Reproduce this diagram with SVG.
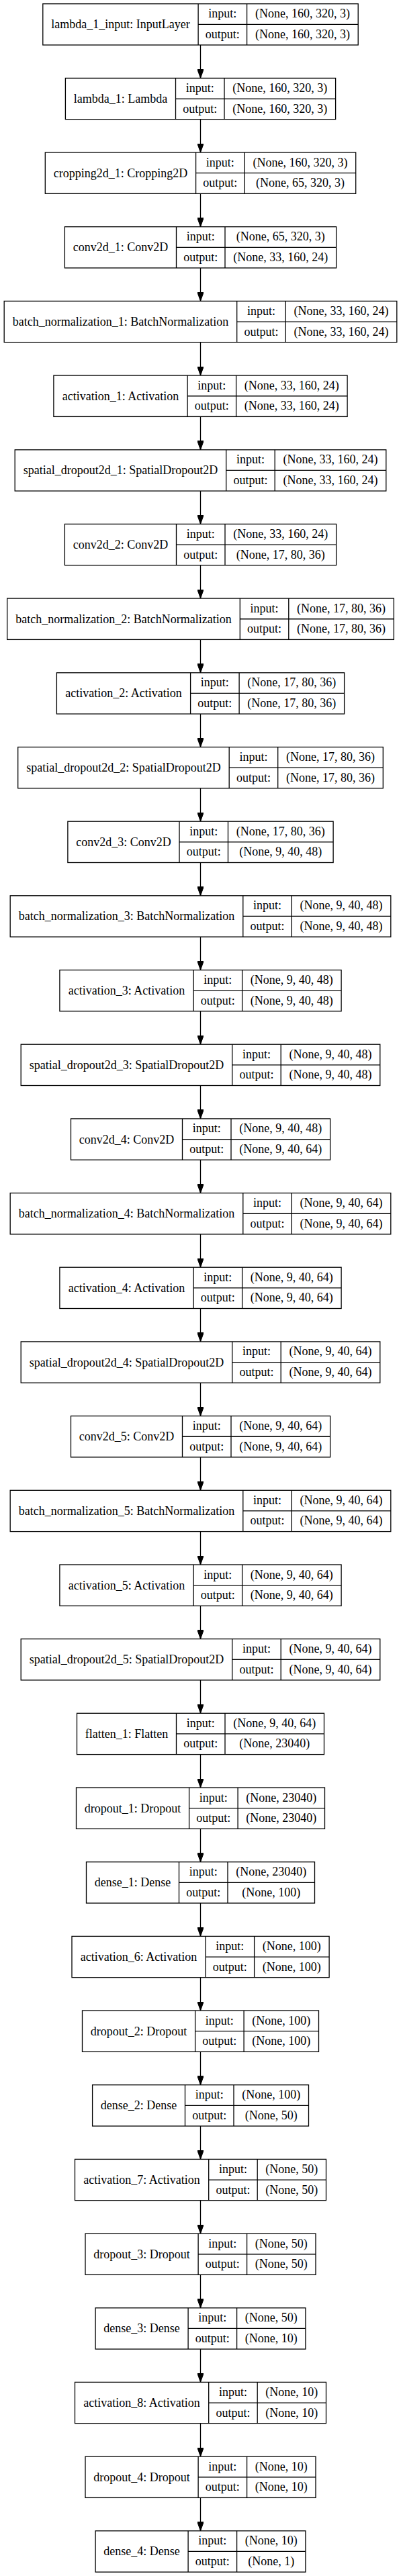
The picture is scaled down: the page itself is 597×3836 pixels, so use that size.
<svg xmlns="http://www.w3.org/2000/svg" width="597" height="3836" viewBox="0 0 597 3836">
<defs>
<style>
rect{fill:#fff;stroke:#000;stroke-width:1.3}
.n path{fill:none;stroke:#000;stroke-width:1.3}
text{font-family:"Liberation Serif","Times New Roman",serif;font-size:18px;text-anchor:middle;fill:#000}
.e line{stroke:#000;stroke-width:1.3}
</style>
<marker id="ah" markerUnits="userSpaceOnUse" viewBox="0 0 13.5 9.6" refX="13.5" refY="4.8" markerWidth="13.5" markerHeight="9.6" orient="auto"><path d="M0,0L13.5,4.8L0,9.6z" fill="#000" stroke="#000" stroke-width="1"/></marker>
</defs>
<rect x="0" y="0" width="597" height="3836" style="fill:#fff;stroke:none"/>
<g class="e" marker-end="url(#ah)">
<line x1="298.5" y1="67.0" x2="298.5" y2="116.4" marker-end="url(#ah)"/>
<line x1="298.5" y1="177.7" x2="298.5" y2="227.0" marker-end="url(#ah)"/>
<line x1="298.5" y1="288.3" x2="298.5" y2="337.7" marker-end="url(#ah)"/>
<line x1="298.5" y1="399.0" x2="298.5" y2="448.4" marker-end="url(#ah)"/>
<line x1="298.5" y1="509.7" x2="298.5" y2="559.1" marker-end="url(#ah)"/>
<line x1="298.5" y1="620.4" x2="298.5" y2="669.8" marker-end="url(#ah)"/>
<line x1="298.5" y1="731.1" x2="298.5" y2="780.4" marker-end="url(#ah)"/>
<line x1="298.5" y1="841.7" x2="298.5" y2="891.1" marker-end="url(#ah)"/>
<line x1="298.5" y1="952.4" x2="298.5" y2="1001.8" marker-end="url(#ah)"/>
<line x1="298.5" y1="1063.1" x2="298.5" y2="1112.5" marker-end="url(#ah)"/>
<line x1="298.5" y1="1173.8" x2="298.5" y2="1223.2" marker-end="url(#ah)"/>
<line x1="298.5" y1="1284.5" x2="298.5" y2="1333.8" marker-end="url(#ah)"/>
<line x1="298.5" y1="1395.1" x2="298.5" y2="1444.5" marker-end="url(#ah)"/>
<line x1="298.5" y1="1505.8" x2="298.5" y2="1555.2" marker-end="url(#ah)"/>
<line x1="298.5" y1="1616.5" x2="298.5" y2="1665.9" marker-end="url(#ah)"/>
<line x1="298.5" y1="1727.2" x2="298.5" y2="1776.6" marker-end="url(#ah)"/>
<line x1="298.5" y1="1837.9" x2="298.5" y2="1887.2" marker-end="url(#ah)"/>
<line x1="298.5" y1="1948.5" x2="298.5" y2="1997.9" marker-end="url(#ah)"/>
<line x1="298.5" y1="2059.2" x2="298.5" y2="2108.6" marker-end="url(#ah)"/>
<line x1="298.5" y1="2169.9" x2="298.5" y2="2219.3" marker-end="url(#ah)"/>
<line x1="298.5" y1="2280.6" x2="298.5" y2="2330.0" marker-end="url(#ah)"/>
<line x1="298.5" y1="2391.3" x2="298.5" y2="2440.6" marker-end="url(#ah)"/>
<line x1="298.5" y1="2501.9" x2="298.5" y2="2551.3" marker-end="url(#ah)"/>
<line x1="298.5" y1="2612.6" x2="298.5" y2="2662.0" marker-end="url(#ah)"/>
<line x1="298.5" y1="2723.3" x2="298.5" y2="2772.7" marker-end="url(#ah)"/>
<line x1="298.5" y1="2834.0" x2="298.5" y2="2883.4" marker-end="url(#ah)"/>
<line x1="298.5" y1="2944.7" x2="298.5" y2="2994.0" marker-end="url(#ah)"/>
<line x1="298.5" y1="3055.3" x2="298.5" y2="3104.7" marker-end="url(#ah)"/>
<line x1="298.5" y1="3166.0" x2="298.5" y2="3215.4" marker-end="url(#ah)"/>
<line x1="298.5" y1="3276.7" x2="298.5" y2="3326.1" marker-end="url(#ah)"/>
<line x1="298.5" y1="3387.4" x2="298.5" y2="3436.8" marker-end="url(#ah)"/>
<line x1="298.5" y1="3498.1" x2="298.5" y2="3547.4" marker-end="url(#ah)"/>
<line x1="298.5" y1="3608.7" x2="298.5" y2="3658.1" marker-end="url(#ah)"/>
<line x1="298.5" y1="3719.4" x2="298.5" y2="3768.8" marker-end="url(#ah)"/>
</g>
<g id="n0" class="n" transform="translate(0,5.7)"><rect x="63.8" width="469.4" height="61.3"/><path d="M295.1,0V61.3M367.6,0V61.3M295.1,30.65H533.2"/><text x="179.45" y="36.7">lambda_1_input: InputLayer</text><text x="331.35" y="20.5">input:</text><text x="331.35" y="51.2">output:</text><text x="450.4" y="20.5">(None, 160, 320, 3)</text><text x="450.4" y="51.2">(None, 160, 320, 3)</text></g>
<g id="n1" class="n" transform="translate(0,116.4)"><rect x="97.4" width="402.2" height="61.3"/><path d="M261.5,0V61.3M334,0V61.3M261.5,30.65H499.6"/><text x="179.45" y="36.7">lambda_1: Lambda</text><text x="297.75" y="20.5">input:</text><text x="297.75" y="51.2">output:</text><text x="416.8" y="20.5">(None, 160, 320, 3)</text><text x="416.8" y="51.2">(None, 160, 320, 3)</text></g>
<g id="n2" class="n" transform="translate(0,227.0)"><rect x="67.3" width="462.4" height="61.3"/><path d="M291.6,0V61.3M364.1,0V61.3M291.6,30.65H529.7"/><text x="179.45" y="36.7">cropping2d_1: Cropping2D</text><text x="327.85" y="20.5">input:</text><text x="327.85" y="51.2">output:</text><text x="446.9" y="20.5">(None, 160, 320, 3)</text><text x="446.9" y="51.2">(None, 65, 320, 3)</text></g>
<g id="n3" class="n" transform="translate(0,337.7)"><rect x="96.4" width="404.2" height="61.3"/><path d="M262.5,0V61.3M335,0V61.3M262.5,30.65H500.6"/><text x="179.45" y="36.7">conv2d_1: Conv2D</text><text x="298.75" y="20.5">input:</text><text x="298.75" y="51.2">output:</text><text x="417.8" y="20.5">(None, 65, 320, 3)</text><text x="417.8" y="51.2">(None, 33, 160, 24)</text></g>
<g id="n4" class="n" transform="translate(0,448.4)"><rect x="6.2" width="584.6" height="61.3"/><path d="M352.7,0V61.3M425.2,0V61.3M352.7,30.65H590.8"/><text x="179.45" y="36.7">batch_normalization_1: BatchNormalization</text><text x="388.95" y="20.5">input:</text><text x="388.95" y="51.2">output:</text><text x="508" y="20.5">(None, 33, 160, 24)</text><text x="508" y="51.2">(None, 33, 160, 24)</text></g>
<g id="n5" class="n" transform="translate(0,559.1)"><rect x="79.9" width="437.2" height="61.3"/><path d="M279.1,0V61.3M351.6,0V61.3M279.1,30.65H517.1"/><text x="179.5" y="36.7">activation_1: Activation</text><text x="315.35" y="20.5">input:</text><text x="315.35" y="51.2">output:</text><text x="434.35" y="20.5">(None, 33, 160, 24)</text><text x="434.35" y="51.2">(None, 33, 160, 24)</text></g>
<g id="n6" class="n" transform="translate(0,669.8)"><rect x="22.2" width="552.6" height="61.3"/><path d="M336.7,0V61.3M409.2,0V61.3M336.7,30.65H574.8"/><text x="179.45" y="36.7">spatial_dropout2d_1: SpatialDropout2D</text><text x="372.95" y="20.5">input:</text><text x="372.95" y="51.2">output:</text><text x="492" y="20.5">(None, 33, 160, 24)</text><text x="492" y="51.2">(None, 33, 160, 24)</text></g>
<g id="n7" class="n" transform="translate(0,780.4)"><rect x="96.4" width="404.2" height="61.3"/><path d="M262.5,0V61.3M335,0V61.3M262.5,30.65H500.6"/><text x="179.45" y="36.7">conv2d_2: Conv2D</text><text x="298.75" y="20.5">input:</text><text x="298.75" y="51.2">output:</text><text x="417.8" y="20.5">(None, 33, 160, 24)</text><text x="417.8" y="51.2">(None, 17, 80, 36)</text></g>
<g id="n8" class="n" transform="translate(0,891.1)"><rect x="10.7" width="575.6" height="61.3"/><path d="M357.3,0V61.3M429.8,0V61.3M357.3,30.65H586.3"/><text x="184" y="36.7">batch_normalization_2: BatchNormalization</text><text x="393.55" y="20.5">input:</text><text x="393.55" y="51.2">output:</text><text x="508.05" y="20.5">(None, 17, 80, 36)</text><text x="508.05" y="51.2">(None, 17, 80, 36)</text></g>
<g id="n9" class="n" transform="translate(0,1001.8)"><rect x="84.4" width="428.2" height="61.3"/><path d="M283.6,0V61.3M356.1,0V61.3M283.6,30.65H512.6"/><text x="184" y="36.7">activation_2: Activation</text><text x="319.85" y="20.5">input:</text><text x="319.85" y="51.2">output:</text><text x="434.35" y="20.5">(None, 17, 80, 36)</text><text x="434.35" y="51.2">(None, 17, 80, 36)</text></g>
<g id="n10" class="n" transform="translate(0,1112.5)"><rect x="26.7" width="543.6" height="61.3"/><path d="M341.2,0V61.3M413.7,0V61.3M341.2,30.65H570.3"/><text x="183.95" y="36.7">spatial_dropout2d_2: SpatialDropout2D</text><text x="377.45" y="20.5">input:</text><text x="377.45" y="51.2">output:</text><text x="492" y="20.5">(None, 17, 80, 36)</text><text x="492" y="51.2">(None, 17, 80, 36)</text></g>
<g id="n11" class="n" transform="translate(0,1223.2)"><rect x="100.9" width="395.2" height="61.3"/><path d="M267,0V61.3M339.5,0V61.3M267,30.65H496.1"/><text x="183.95" y="36.7">conv2d_3: Conv2D</text><text x="303.25" y="20.5">input:</text><text x="303.25" y="51.2">output:</text><text x="417.8" y="20.5">(None, 17, 80, 36)</text><text x="417.8" y="51.2">(None, 9, 40, 48)</text></g>
<g id="n12" class="n" transform="translate(0,1333.8)"><rect x="15.2" width="566.6" height="61.3"/><path d="M361.8,0V61.3M434.3,0V61.3M361.8,30.65H581.8"/><text x="188.5" y="36.7">batch_normalization_3: BatchNormalization</text><text x="398.05" y="20.5">input:</text><text x="398.05" y="51.2">output:</text><text x="508.05" y="20.5">(None, 9, 40, 48)</text><text x="508.05" y="51.2">(None, 9, 40, 48)</text></g>
<g id="n13" class="n" transform="translate(0,1444.5)"><rect x="88.9" width="419.2" height="61.3"/><path d="M288.1,0V61.3M360.6,0V61.3M288.1,30.65H508.1"/><text x="188.5" y="36.7">activation_3: Activation</text><text x="324.35" y="20.5">input:</text><text x="324.35" y="51.2">output:</text><text x="434.35" y="20.5">(None, 9, 40, 48)</text><text x="434.35" y="51.2">(None, 9, 40, 48)</text></g>
<g id="n14" class="n" transform="translate(0,1555.2)"><rect x="31.2" width="534.6" height="61.3"/><path d="M345.7,0V61.3M418.2,0V61.3M345.7,30.65H565.8"/><text x="188.45" y="36.7">spatial_dropout2d_3: SpatialDropout2D</text><text x="381.95" y="20.5">input:</text><text x="381.95" y="51.2">output:</text><text x="492" y="20.5">(None, 9, 40, 48)</text><text x="492" y="51.2">(None, 9, 40, 48)</text></g>
<g id="n15" class="n" transform="translate(0,1665.9)"><rect x="105.5" width="386.1" height="61.3"/><path d="M271.5,0V61.3M344,0V61.3M271.5,30.65H491.6"/><text x="188.5" y="36.7">conv2d_4: Conv2D</text><text x="307.75" y="20.5">input:</text><text x="307.75" y="51.2">output:</text><text x="417.8" y="20.5">(None, 9, 40, 48)</text><text x="417.8" y="51.2">(None, 9, 40, 64)</text></g>
<g id="n16" class="n" transform="translate(0,1776.6)"><rect x="15.2" width="566.6" height="61.3"/><path d="M361.8,0V61.3M434.3,0V61.3M361.8,30.65H581.8"/><text x="188.5" y="36.7">batch_normalization_4: BatchNormalization</text><text x="398.05" y="20.5">input:</text><text x="398.05" y="51.2">output:</text><text x="508.05" y="20.5">(None, 9, 40, 64)</text><text x="508.05" y="51.2">(None, 9, 40, 64)</text></g>
<g id="n17" class="n" transform="translate(0,1887.2)"><rect x="88.9" width="419.2" height="61.3"/><path d="M288.1,0V61.3M360.6,0V61.3M288.1,30.65H508.1"/><text x="188.5" y="36.7">activation_4: Activation</text><text x="324.35" y="20.5">input:</text><text x="324.35" y="51.2">output:</text><text x="434.35" y="20.5">(None, 9, 40, 64)</text><text x="434.35" y="51.2">(None, 9, 40, 64)</text></g>
<g id="n18" class="n" transform="translate(0,1997.9)"><rect x="31.2" width="534.6" height="61.3"/><path d="M345.7,0V61.3M418.2,0V61.3M345.7,30.65H565.8"/><text x="188.45" y="36.7">spatial_dropout2d_4: SpatialDropout2D</text><text x="381.95" y="20.5">input:</text><text x="381.95" y="51.2">output:</text><text x="492" y="20.5">(None, 9, 40, 64)</text><text x="492" y="51.2">(None, 9, 40, 64)</text></g>
<g id="n19" class="n" transform="translate(0,2108.6)"><rect x="105.5" width="386.1" height="61.3"/><path d="M271.5,0V61.3M344,0V61.3M271.5,30.65H491.6"/><text x="188.5" y="36.7">conv2d_5: Conv2D</text><text x="307.75" y="20.5">input:</text><text x="307.75" y="51.2">output:</text><text x="417.8" y="20.5">(None, 9, 40, 64)</text><text x="417.8" y="51.2">(None, 9, 40, 64)</text></g>
<g id="n20" class="n" transform="translate(0,2219.3)"><rect x="15.2" width="566.6" height="61.3"/><path d="M361.8,0V61.3M434.3,0V61.3M361.8,30.65H581.8"/><text x="188.5" y="36.7">batch_normalization_5: BatchNormalization</text><text x="398.05" y="20.5">input:</text><text x="398.05" y="51.2">output:</text><text x="508.05" y="20.5">(None, 9, 40, 64)</text><text x="508.05" y="51.2">(None, 9, 40, 64)</text></g>
<g id="n21" class="n" transform="translate(0,2330.0)"><rect x="88.9" width="419.2" height="61.3"/><path d="M288.1,0V61.3M360.6,0V61.3M288.1,30.65H508.1"/><text x="188.5" y="36.7">activation_5: Activation</text><text x="324.35" y="20.5">input:</text><text x="324.35" y="51.2">output:</text><text x="434.35" y="20.5">(None, 9, 40, 64)</text><text x="434.35" y="51.2">(None, 9, 40, 64)</text></g>
<g id="n22" class="n" transform="translate(0,2440.6)"><rect x="31.2" width="534.6" height="61.3"/><path d="M345.7,0V61.3M418.2,0V61.3M345.7,30.65H565.8"/><text x="188.45" y="36.7">spatial_dropout2d_5: SpatialDropout2D</text><text x="381.95" y="20.5">input:</text><text x="381.95" y="51.2">output:</text><text x="492" y="20.5">(None, 9, 40, 64)</text><text x="492" y="51.2">(None, 9, 40, 64)</text></g>
<g id="n23" class="n" transform="translate(0,2551.3)"><rect x="114.5" width="368" height="61.3"/><path d="M262.5,0V61.3M335,0V61.3M262.5,30.65H482.5"/><text x="188.5" y="36.7">flatten_1: Flatten</text><text x="298.75" y="20.5">input:</text><text x="298.75" y="51.2">output:</text><text x="408.75" y="20.5">(None, 9, 40, 64)</text><text x="408.75" y="51.2">(None, 23040)</text></g>
<g id="n24" class="n" transform="translate(0,2662.0)"><rect x="113.5" width="370" height="61.3"/><path d="M281.6,0V61.3M354.1,0V61.3M281.6,30.65H483.5"/><text x="197.55" y="36.7">dropout_1: Dropout</text><text x="317.85" y="20.5">input:</text><text x="317.85" y="51.2">output:</text><text x="418.8" y="20.5">(None, 23040)</text><text x="418.8" y="51.2">(None, 23040)</text></g>
<g id="n25" class="n" transform="translate(0,2772.7)"><rect x="128.5" width="340" height="61.3"/><path d="M266.5,0V61.3M339,0V61.3M266.5,30.65H468.5"/><text x="197.5" y="36.7">dense_1: Dense</text><text x="302.75" y="20.5">input:</text><text x="302.75" y="51.2">output:</text><text x="403.75" y="20.5">(None, 23040)</text><text x="403.75" y="51.2">(None, 100)</text></g>
<g id="n26" class="n" transform="translate(0,2883.4)"><rect x="107" width="383.1" height="61.3"/><path d="M306.1,0V61.3M378.6,0V61.3M306.1,30.65H490.1"/><text x="206.55" y="36.7">activation_6: Activation</text><text x="342.35" y="20.5">input:</text><text x="342.35" y="51.2">output:</text><text x="434.35" y="20.5">(None, 100)</text><text x="434.35" y="51.2">(None, 100)</text></g>
<g id="n27" class="n" transform="translate(0,2994.0)"><rect x="122.5" width="352" height="61.3"/><path d="M290.6,0V61.3M363.1,0V61.3M290.6,30.65H474.5"/><text x="206.55" y="36.7">dropout_2: Dropout</text><text x="326.85" y="20.5">input:</text><text x="326.85" y="51.2">output:</text><text x="418.8" y="20.5">(None, 100)</text><text x="418.8" y="51.2">(None, 100)</text></g>
<g id="n28" class="n" transform="translate(0,3104.7)"><rect x="137.6" width="321.9" height="61.3"/><path d="M275.5,0V61.3M348,0V61.3M275.5,30.65H459.5"/><text x="206.55" y="36.7">dense_2: Dense</text><text x="311.75" y="20.5">input:</text><text x="311.75" y="51.2">output:</text><text x="403.75" y="20.5">(None, 100)</text><text x="403.75" y="51.2">(None, 50)</text></g>
<g id="n29" class="n" transform="translate(0,3215.4)"><rect x="111.5" width="374" height="61.3"/><path d="M310.7,0V61.3M383.2,0V61.3M310.7,30.65H485.5"/><text x="211.1" y="36.7">activation_7: Activation</text><text x="346.95" y="20.5">input:</text><text x="346.95" y="51.2">output:</text><text x="434.35" y="20.5">(None, 50)</text><text x="434.35" y="51.2">(None, 50)</text></g>
<g id="n30" class="n" transform="translate(0,3326.1)"><rect x="127" width="343" height="61.3"/><path d="M295.1,0V61.3M367.6,0V61.3M295.1,30.65H470"/><text x="211.05" y="36.7">dropout_3: Dropout</text><text x="331.35" y="20.5">input:</text><text x="331.35" y="51.2">output:</text><text x="418.8" y="20.5">(None, 50)</text><text x="418.8" y="51.2">(None, 50)</text></g>
<g id="n31" class="n" transform="translate(0,3436.8)"><rect x="142.1" width="312.8" height="61.3"/><path d="M280.1,0V61.3M352.6,0V61.3M280.1,30.65H454.9"/><text x="211.1" y="36.7">dense_3: Dense</text><text x="316.35" y="20.5">input:</text><text x="316.35" y="51.2">output:</text><text x="403.75" y="20.5">(None, 50)</text><text x="403.75" y="51.2">(None, 10)</text></g>
<g id="n32" class="n" transform="translate(0,3547.4)"><rect x="111.5" width="374" height="61.3"/><path d="M310.7,0V61.3M383.2,0V61.3M310.7,30.65H485.5"/><text x="211.1" y="36.7">activation_8: Activation</text><text x="346.95" y="20.5">input:</text><text x="346.95" y="51.2">output:</text><text x="434.35" y="20.5">(None, 10)</text><text x="434.35" y="51.2">(None, 10)</text></g>
<g id="n33" class="n" transform="translate(0,3658.1)"><rect x="127" width="343" height="61.3"/><path d="M295.1,0V61.3M367.6,0V61.3M295.1,30.65H470"/><text x="211.05" y="36.7">dropout_4: Dropout</text><text x="331.35" y="20.5">input:</text><text x="331.35" y="51.2">output:</text><text x="418.8" y="20.5">(None, 10)</text><text x="418.8" y="51.2">(None, 10)</text></g>
<g id="n34" class="n" transform="translate(0,3768.8)"><rect x="142.1" width="312.8" height="61.3"/><path d="M280.1,0V61.3M352.6,0V61.3M280.1,30.65H454.9"/><text x="211.1" y="36.7">dense_4: Dense</text><text x="316.35" y="20.5">input:</text><text x="316.35" y="51.2">output:</text><text x="403.75" y="20.5">(None, 10)</text><text x="403.75" y="51.2">(None, 1)</text></g>
</svg>
